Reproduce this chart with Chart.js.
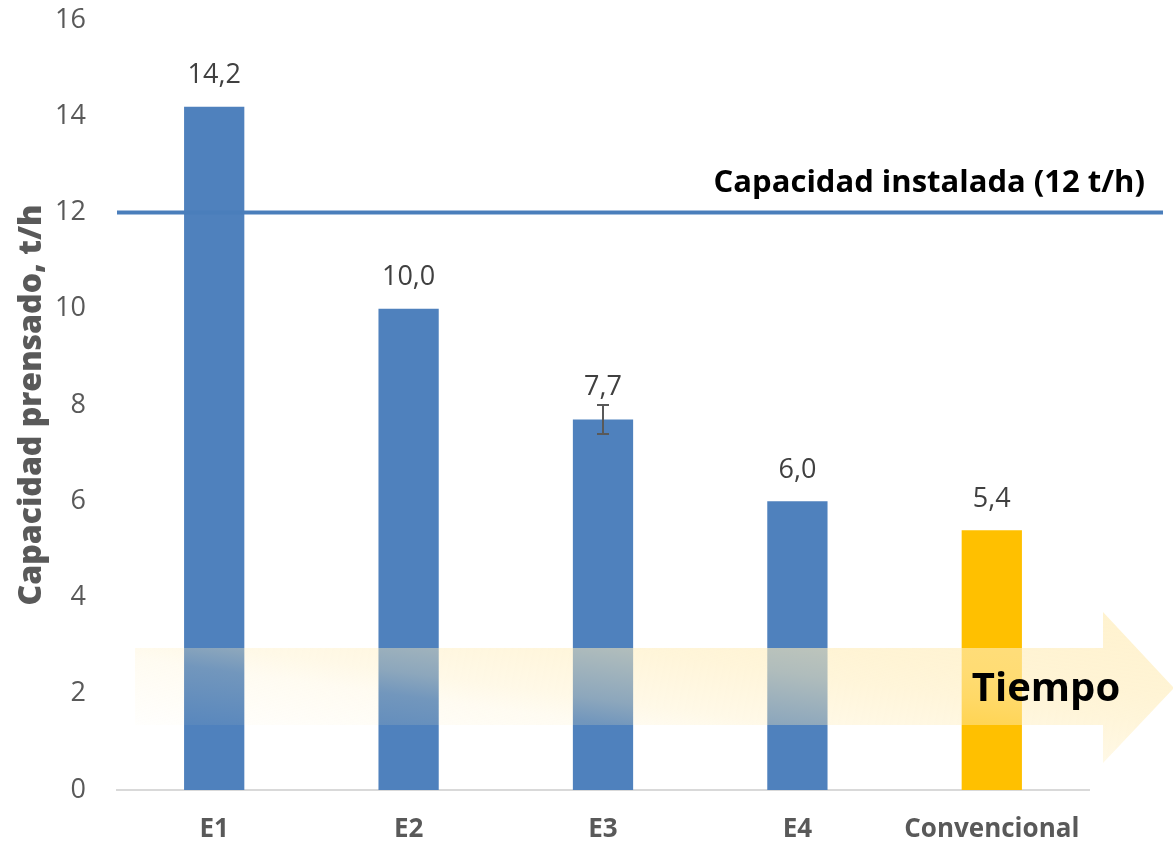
<!DOCTYPE html>
<html>
<head>
<meta charset="utf-8">
<script src="https://cdn.jsdelivr.net/npm/chart.js@4.4.1/dist/chart.umd.min.js"></script>
<style>
  html, body { margin: 0; padding: 0; background: #ffffff; }
  #wrap { width: 1173px; height: 846px; position: relative; }
</style>
</head>
<body>
<div id="wrap"><canvas id="chart" width="1173" height="846"></canvas></div>
<script>
// Pressing capacity per stage (t/h)
const categories = ['E1', 'E2', 'E3', 'E4', 'Convencional'];
const capacity = [14.2, 10.0, 7.7, 6.0, 5.4];
// Error margin (± t/h), only E3 carries one
const errorMargin = [0, 0, 0.3, 0, 0];
const barColors = ['#4f81bd', '#4f81bd', '#4f81bd', '#4f81bd', '#ffc000'];
// Installed capacity reference
const installedCapacity = 12;
const installedLabel = 'Capacidad instalada (12 t/h)';
const yTicks = [0, 2, 4, 6, 8, 10, 12, 14, 16];
const arrowLabel = 'Tiempo';
const yTitle = 'Capacidad prensado, t/h';

const FONT = "'Open Sans', 'Noto Sans', sans-serif";

function fmt(v) { return v.toFixed(1).replace('.', ','); }

const overlayPlugin = {
  id: 'overlay',
  afterDatasetsDraw(chart) {
    const ctx = chart.ctx;
    const y = chart.scales.y;
    const area = chart.chartArea;
    const meta = chart.getDatasetMeta(0);

    ctx.save();

    // Installed capacity line, running past the plot area to the right edge
    const yCap = y.getPixelForValue(installedCapacity);
    ctx.strokeStyle = '#4a7ebb';
    ctx.lineWidth = 4;
    ctx.beginPath();
    ctx.moveTo(area.left, yCap);
    ctx.lineTo(chart.width - 10, yCap);
    ctx.stroke();

    // Error bars
    ctx.strokeStyle = '#595959';
    ctx.lineWidth = 2;
    capacity.forEach((v, i) => {
      const e = errorMargin[i];
      if (!e) return;
      const cx = meta.data[i].x;
      const yHi = y.getPixelForValue(v + e);
      const yLo = y.getPixelForValue(v - e);
      ctx.beginPath();
      ctx.moveTo(cx, yHi); ctx.lineTo(cx, yLo);
      ctx.moveTo(cx - 6, yHi); ctx.lineTo(cx + 6, yHi);
      ctx.moveTo(cx - 6, yLo); ctx.lineTo(cx + 6, yLo);
      ctx.stroke();
    });

    // "Tiempo" arrow: translucent pale yellow, fading out toward the lower left
    const bodyTop = 648, bodyBottom = 725;
    const xStart = 135, headX = 1103, tipX = 1174;
    const headTop = 612, headBottom = 763, tipY = 688;
    const g = ctx.createLinearGradient(135, 740, 170.6, 482.6);
    g.addColorStop(0.00, 'rgba(255,237,187,0)');
    g.addColorStop(0.31, 'rgba(255,237,187,0.20)');
    g.addColorStop(0.40, 'rgba(255,237,187,0.35)');
    g.addColorStop(0.60, 'rgba(255,237,187,0.55)');
    g.addColorStop(0.71, 'rgba(255,237,187,0.62)');
    g.addColorStop(1.00, 'rgba(255,237,187,0.70)');
    ctx.fillStyle = g;
    ctx.beginPath();
    ctx.moveTo(xStart, bodyTop);
    ctx.lineTo(headX, bodyTop);
    ctx.lineTo(headX, headTop);
    ctx.lineTo(tipX, tipY);
    ctx.lineTo(headX, headBottom);
    ctx.lineTo(headX, bodyBottom);
    ctx.lineTo(xStart, bodyBottom);
    ctx.closePath();
    ctx.fill();

    // Value labels above each bar (above the error bar when present)
    ctx.fillStyle = '#404040';
    ctx.font = '27px ' + FONT;
    ctx.textAlign = 'center';
    ctx.textBaseline = 'middle';
    capacity.forEach((v, i) => {
      const cx = meta.data[i].x;
      let ly;
      if (errorMargin[i]) {
        ly = y.getPixelForValue(v + errorMargin[i]) - 18;
      } else {
        ly = y.getPixelForValue(v) - 31;
      }
      ctx.fillText(fmt(v), cx, ly);
    });

    // Installed capacity caption
    ctx.fillStyle = '#000000';
    ctx.font = 'bold 31px ' + FONT;
    ctx.textAlign = 'right';
    ctx.fillText(installedLabel, 1145, yCap - 29);

    // Arrow caption
    ctx.font = 'bold 40px ' + FONT;
    ctx.textAlign = 'center';
    ctx.fillText(arrowLabel, 1046, 690);

    ctx.restore();
  }
};

new Chart(document.getElementById('chart'), {
  type: 'bar',
  data: {
    labels: categories,
    datasets: [{
      data: capacity,
      backgroundColor: barColors,
      borderWidth: 0,
      categoryPercentage: 1.0,
      barPercentage: 0.31
    }]
  },
  options: {
    responsive: false,
    animation: false,
    devicePixelRatio: 1,
    layout: { padding: { top: 20, right: 84, left: 0, bottom: 0 } },
    plugins: {
      legend: { display: false },
      tooltip: { enabled: false }
    },
    scales: {
      x: {
        grid: { display: false, drawTicks: false },
        border: { display: true, color: '#d9d9d9', width: 2 },
        ticks: {
          color: '#595959',
          font: { family: FONT, size: 26, weight: 'bold' },
          padding: 24,
          maxRotation: 0
        },
        afterFit(scale) { scale.height = 56; }
      },
      y: {
        min: 0,
        max: 16,
        afterBuildTicks(scale) { scale.ticks = yTicks.map(v => ({ value: v })); },
        grid: { display: false, drawTicks: false },
        border: { display: false },
        ticks: {
          color: '#595959',
          font: { family: FONT, size: 27 },
          padding: 31
        },
        title: {
          display: true,
          text: yTitle,
          color: '#595959',
          font: { family: FONT, size: 32, weight: 800 },
          padding: { top: 13, bottom: 0 }
        },
        afterFit(scale) {
          scale.width = 117;
          scale.paddingTop = 0;
          scale.paddingBottom = 0;
        }
      }
    }
  },
  plugins: [overlayPlugin]
});
</script>
</body>
</html>
